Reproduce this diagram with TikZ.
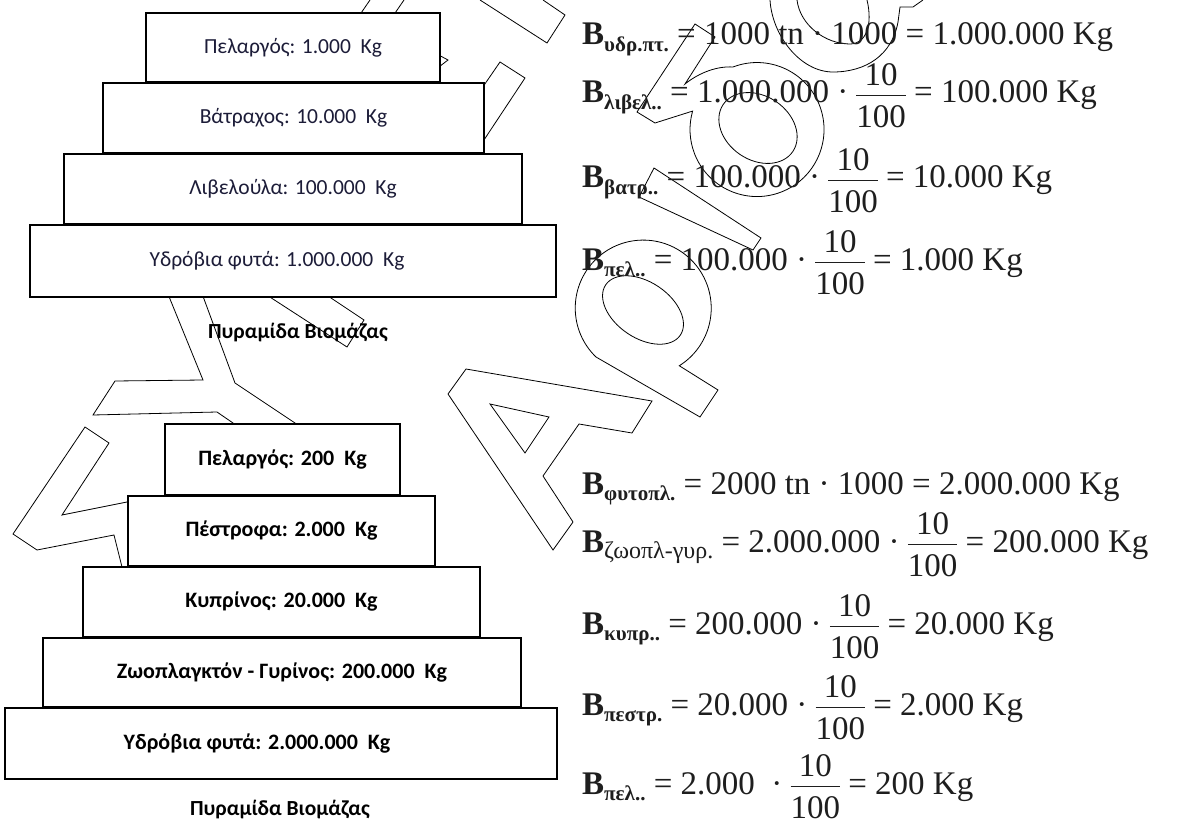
\documentclass[tikz,border=0pt]{standalone}
\usepackage{fontspec}
\setmainfont{Carlito}
\newfontfamily\tnr{Liberation Serif}
\definecolor{boxtext}{RGB}{28,28,56}
\definecolor{formula}{RGB}{30,30,30}
\newcommand\fr[2]{\leavevmode\begingroup
  \setbox0\hbox{#2}%
  \hbox{\rlap{\raisebox{0.53em}{\hbox to\wd0{\hss#1\hss}}}%
  \rlap{\raisebox{0.20em}{\rule{\wd0}{0.055em}}}%
  \raisebox{-0.74em}{\box0}}\endgroup}
\newcommand\sbb[1]{\raisebox{-0.2em}{\fontsize{21}{21}\selectfont\bfseries #1}}
\newcommand\sbr[1]{\raisebox{-0.2em}{\fontsize{24}{24}\selectfont #1}}
\begin{document}
\begin{tikzpicture}[x=1pt,y=-1pt,
  wm/.style={line width=0.8pt, black, line join=miter},
  pyrA/.style={draw, line width=2.2pt, fill=white, inner sep=0pt, text=boxtext,
     font=\fontsize{21.5}{24}\selectfont},
  pyrB/.style={draw, line width=2.2pt, fill=white, inner sep=0pt, text=black,
     font=\fontsize{22}{24}\selectfont\bfseries},
  capt/.style={inner sep=0pt, text=black, font=\fontsize{21.5}{24}\selectfont\bfseries},
  frm/.style={inner sep=0pt, anchor=base west, text=formula,
     font=\tnr\fontsize{33}{36}\selectfont}]
\fill[white] (0,0) rectangle (1177,826);
\useasboundingbox (0,0) rectangle (1177,826);

% ---- watermark outlines ----
\draw[wm] (140,499) -- (127,502) -- (62,515) -- (109,443) -- (85,427) -- (13,534) -- (37,550) -- (114,535) -- (124,575);
\draw[wm] (167,290) -- (170,299) -- (203,380) -- (115,381) -- (93,415) -- (217,412) -- (233,423) -- (245,431);
\draw[wm] (201,290) -- (204,299) -- (235,383) -- (295,423) -- (305,430);
\draw[wm] (259,290) -- (347,347) -- (364,320) -- (319,290);
\draw[wm] (359,16) -- (370,0);
\draw[wm] (393,16) -- (404,0);
\draw[wm] (480,0) -- (547,43) -- (565,15) -- (543,0);
\draw[wm] (478,94) -- (500,62) -- (525,78) -- (478,149);
\draw[wm] (435,53) -- (448,60) -- (435,70);
% A
\draw[wm] (466,369) -- (652,401) -- (632,433) -- (579,424) -- (543,476) -- (573,522) -- (553,550) -- (448,394) -- cycle;
\draw[wm] (490,404) -- (549,417) -- (525,453) -- cycle;
% rho
\draw[wm] (700,417) -- (596,357) arc[start angle=134,end angle=418,radius=68] -- (718,390) -- cycle;
\draw[wm, rotate around={-34:(643,310)}] (643,310) ellipse[x radius=45,y radius=28];
% iota
\draw[wm] (654,168) -- (761,238) -- (753,250) -- (639,197) -- cycle;
% round letter with top stroke
\draw[wm] (685,84) .. controls (700,72) and (718,66) .. (733,67) arc[start angle=249,end angle=556,radius=67] -- (655,123) -- (637,112) -- (695,24) -- (715,37) -- cycle;
\draw[wm, rotate around={-34:(758,128)}] (758,128) ellipse[x radius=42,y radius=32];
% letter cut at top
\draw[wm] (770,0) .. controls (772,35) and (800,72) .. (833,72) .. controls (866,72) and (892,55) .. (898,22) -- (900,7) -- (913,7) -- (923,0);
\draw[wm] (797,0) .. controls (800,25) and (825,44) .. (850,44) .. controls (866,44) and (873,25) .. (867,0);

% ---- pyramid 1 ----
\node[pyrA, minimum width=294pt, minimum height=69pt] (a1) at (293,47.5) {Πελαργός: 1.000~~Kg};
\node[pyrA, minimum width=381pt, minimum height=70pt] (a2) at (293.5,118) {Βάτραχος: 10.000~~Kg};
\node[pyrA, minimum width=458pt, minimum height=70pt] (a3) at (293,189) {Λιβελούλα: 100.000~~Kg};
\node[pyrA, minimum width=526pt, minimum height=72pt] (a4) at (293,261) {Υδρόβια φυτά: 1.000.000~~Kg\rule{32pt}{0pt}};
\node[capt] (cap1) at (298,333) {Πυραμίδα Βιομάζας};

% ---- pyramid 2 ----
\node[pyrB, minimum width=235pt, minimum height=71pt] (b1) at (282.5,459.5) {Πελαργός: 200~~Kg};
\node[pyrB, minimum width=307pt, minimum height=70pt] (b2) at (281.5,531) {Πέστροφα: 2.000~~Kg};
\node[pyrB, minimum width=397pt, minimum height=70pt] (b3) at (281.5,602) {Κυπρίνος: 20.000~~Kg};
\node[pyrB, minimum width=478pt, minimum height=69pt] (b4) at (282,672.5) {Ζωοπλαγκτόν - Γυρίνος: 200.000~~Kg};
\node[pyrB, minimum width=552pt, minimum height=71pt] (b5) at (281,743.5) {Υδρόβια φυτά: 2.000.000~~Kg\rule{48pt}{0pt}};
\node[capt] (cap2) at (280,810) {Πυραμίδα Βιομάζας};

% ---- formulas, set 1 ----
\node[frm] (f1) at (582,45) {\textbf{B}\sbb{υδρ.πτ.} = 1000 tn · 1000 = 1.000.000 Kg};
\node[frm] (f2) at (582,103) {\textbf{B}\sbb{λιβελ..} = 1.000.000 · \fr{10}{100} = 100.000 Kg};
\node[frm] (f3) at (582,188) {\textbf{B}\sbb{βατρ..} = 100.000 · \fr{10}{100} = 10.000 Kg};
\node[frm] (f4) at (582,270) {\textbf{B}\sbb{πελ..} = 100.000 · \fr{10}{100} = 1.000 Kg};

% ---- formulas, set 2 ----
\node[frm] (g1) at (582,494) {\textbf{B}\sbb{φυτοπλ.} = 2000 tn · 1000 = 2.000.000 Kg};
\node[frm] (g2) at (582,552) {\textbf{B}\sbr{ζωοπλ-γυρ.} = 2.000.000 · \fr{10}{100} = 200.000 Kg};
\node[frm] (g3) at (582,634) {\textbf{B}\sbb{κυπρ..} = 200.000 · \fr{10}{100} = 20.000 Kg};
\node[frm] (g4) at (582,715) {\textbf{B}\sbb{πεστρ.} = 20.000 · \fr{10}{100} = 2.000 Kg};
\node[frm] (g5) at (582,794) {\textbf{B}\sbb{πελ..} = 2.000~~· \fr{10}{100} = 200 Kg};
\end{tikzpicture}
\end{document}
